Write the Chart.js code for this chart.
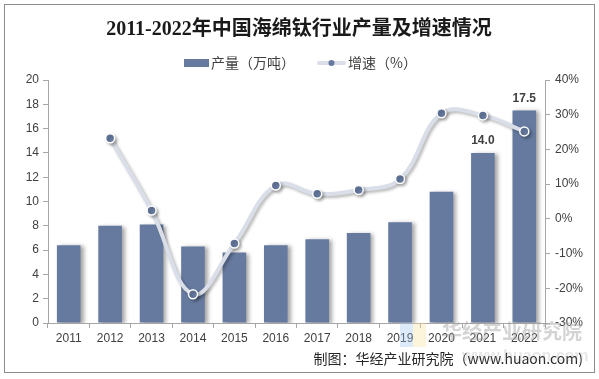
<!DOCTYPE html>
<html>
<head>
<meta charset="utf-8">
<script src="https://cdn.jsdelivr.net/npm/chart.js@4/dist/chart.umd.min.js"></script>
<style>
  html, body { margin: 0; padding: 0; background: #ffffff; }
  #wrap { width: 599px; height: 379px; position: relative; }
</style>
</head>
<body>
<div id="wrap"><canvas id="c" width="599" height="379"></canvas></div>
<script>
const categories = ['2011','2012','2013','2014','2015','2016','2017','2018','2019','2020','2021','2022'];
const outputValues = [6.4, 8.0, 8.1, 6.3, 5.8, 6.4, 6.9, 7.4, 8.3, 10.8, 14.0, 17.5];
const growthValues = [null, 23.2, 2.4, -21.7, -7.1, 9.6, 7.2, 8.3, 11.5, 30.4, 29.8, 25.2];
const labeledBars = ['2021', '2022'];
const titleText = '2011-2022年中国海绵钛行业产量及增速情况';
const legendBar = '产量（万吨）';
const legendLine = '增速（%）';
const footerText = '制图：华经产业研究院（www.huaon.com)';

const BAR = '#667a9f';
const LINE = '#d9dee9';
const TXT = '#404040';
const SANS = '"Liberation Sans", Arial, "Noto Sans CJK SC", sans-serif';
const CJK = '"Noto Sans CJK SC", "Liberation Sans", sans-serif';

const decor = {
  id: 'decor',
  beforeDraw(chart) {
    const ctx = chart.ctx;
    ctx.save();
    ctx.fillStyle = '#ffffff';
    ctx.fillRect(0, 0, chart.width, chart.height);
    ctx.strokeStyle = '#8c8c8c';
    ctx.lineWidth = 1;
    ctx.strokeRect(4.5, 4.5, 590, 368);
    // title
    ctx.fillStyle = '#1a1a1a';
    ctx.font = 'bold 20px "Liberation Serif", "Noto Sans CJK SC", serif';
    ctx.textAlign = 'center';
    ctx.textBaseline = 'middle';
    ctx.fillText(titleText, 299, 30);
    // legend
    ctx.font = '14px ' + CJK;
    ctx.textAlign = 'left';
    ctx.fillStyle = BAR;
    ctx.fillRect(184, 59, 25, 8);
    ctx.fillStyle = TXT;
    ctx.fillText(legendBar, 211, 63);
    ctx.strokeStyle = LINE;
    ctx.lineWidth = 4;
    ctx.lineCap = 'round';
    ctx.beginPath(); ctx.moveTo(319, 63); ctx.lineTo(344, 63); ctx.stroke();
    ctx.fillStyle = BAR;
    ctx.beginPath(); ctx.arc(331.5, 63, 3, 0, Math.PI * 2); ctx.fill();
    ctx.fillStyle = TXT;
    ctx.fillText(legendLine, 348, 63);
    // footer
    ctx.font = '14px ' + CJK;
    ctx.textAlign = 'right';
    ctx.fillStyle = '#262626';
    ctx.fillText(footerText, 583, 359);
    ctx.restore();
  },
  beforeDatasetDraw(chart, args) {
    const ctx = chart.ctx;
    ctx.save();
    if (args.meta.type === 'bar') {
      ctx.shadowColor = 'rgba(0,0,0,0.35)';
      ctx.shadowOffsetX = 3;
      ctx.shadowOffsetY = 1;
      ctx.shadowBlur = 4;
    } else {
      ctx.shadowColor = 'rgba(0,0,0,0.28)';
      ctx.shadowOffsetX = 2;
      ctx.shadowOffsetY = 2;
      ctx.shadowBlur = 3;
    }
  },
  afterDatasetDraw(chart) {
    chart.ctx.restore();
  },
  afterDraw(chart) {
    const ctx = chart.ctx;
    ctx.save();
    // value labels on selected bars
    const meta = chart.getDatasetMeta(1);
    ctx.font = 'bold 12px ' + SANS;
    ctx.fillStyle = TXT;
    ctx.textAlign = 'center';
    ctx.textBaseline = 'middle';
    meta.data.forEach((el, i) => {
      if (labeledBars.includes(categories[i])) {
        ctx.fillText(outputValues[i].toFixed(1), el.x, el.y - 12);
      }
    });
    // watermark
    ctx.globalAlpha = 0.35;
    ctx.fillStyle = '#9fc3f0';
    ctx.fillRect(400, 323, 13, 24);
    ctx.fillStyle = '#f7e39a';
    ctx.fillRect(413, 323, 13, 24);
    ctx.globalAlpha = 0.45;
    ctx.fillStyle = '#a0a0a0';
    ctx.font = 'bold 20px ' + CJK;
    ctx.textAlign = 'left';
    ctx.fillText('华经产业研究院', 442, 331);
    ctx.globalAlpha = 0.25;
    ctx.font = 'bold 16px ' + SANS;
    ctx.fillText('www.huaon.com', 462, 357);
    ctx.restore();
  }
};

new Chart(document.getElementById('c'), {
  data: {
    labels: categories,
    datasets: [
      {
        type: 'line',
        label: legendLine,
        data: growthValues,
        yAxisID: 'y1',
        borderColor: LINE,
        borderWidth: 4,
        tension: 0.4,
        pointRadius: 4.5,
        pointBackgroundColor: BAR,
        pointBorderColor: '#ffffff',
        pointBorderWidth: 1.5,
        spanGaps: false,
        order: 0
      },
      {
        type: 'bar',
        label: legendBar,
        data: outputValues,
        yAxisID: 'y',
        backgroundColor: BAR,
        borderWidth: 0,
        categoryPercentage: 1,
        barPercentage: 0.57,
        order: 1
      }
    ]
  },
  options: {
    responsive: false,
    animation: false,
    devicePixelRatio: 1,
    layout: { padding: { top: 80, bottom: 36, left: 0, right: 0 } },
    plugins: {
      legend: { display: false },
      title: { display: false },
      tooltip: { enabled: false }
    },
    scales: {
      x: {
        offset: true,
        grid: { display: true, drawOnChartArea: false, offset: true, color: '#a6a6a6', tickLength: 5 },
        border: { color: '#a6a6a6' },
        ticks: { color: TXT, font: { size: 12, family: SANS }, padding: 3, maxRotation: 0 },
        afterFit(s) { s.height = 20; }
      },
      y: {
        position: 'left',
        min: 0, max: 20,
        ticks: { stepSize: 2, color: TXT, font: { size: 12, family: SANS }, padding: 4 },
        grid: { display: true, drawOnChartArea: false, color: '#a6a6a6', tickLength: 5 },
        border: { color: '#a6a6a6' },
        afterFit(s) { s.width = 48; }
      },
      y1: {
        position: 'right',
        min: -30, max: 40,
        ticks: { stepSize: 10, color: TXT, font: { size: 12, family: SANS }, padding: 5,
                 callback: v => v + '%' },
        grid: { display: true, drawOnChartArea: false, color: '#a6a6a6', tickLength: 5 },
        border: { color: '#a6a6a6' },
        afterFit(s) { s.width = 54; }
      }
    }
  },
  plugins: [decor]
});
</script>
</body>
</html>
